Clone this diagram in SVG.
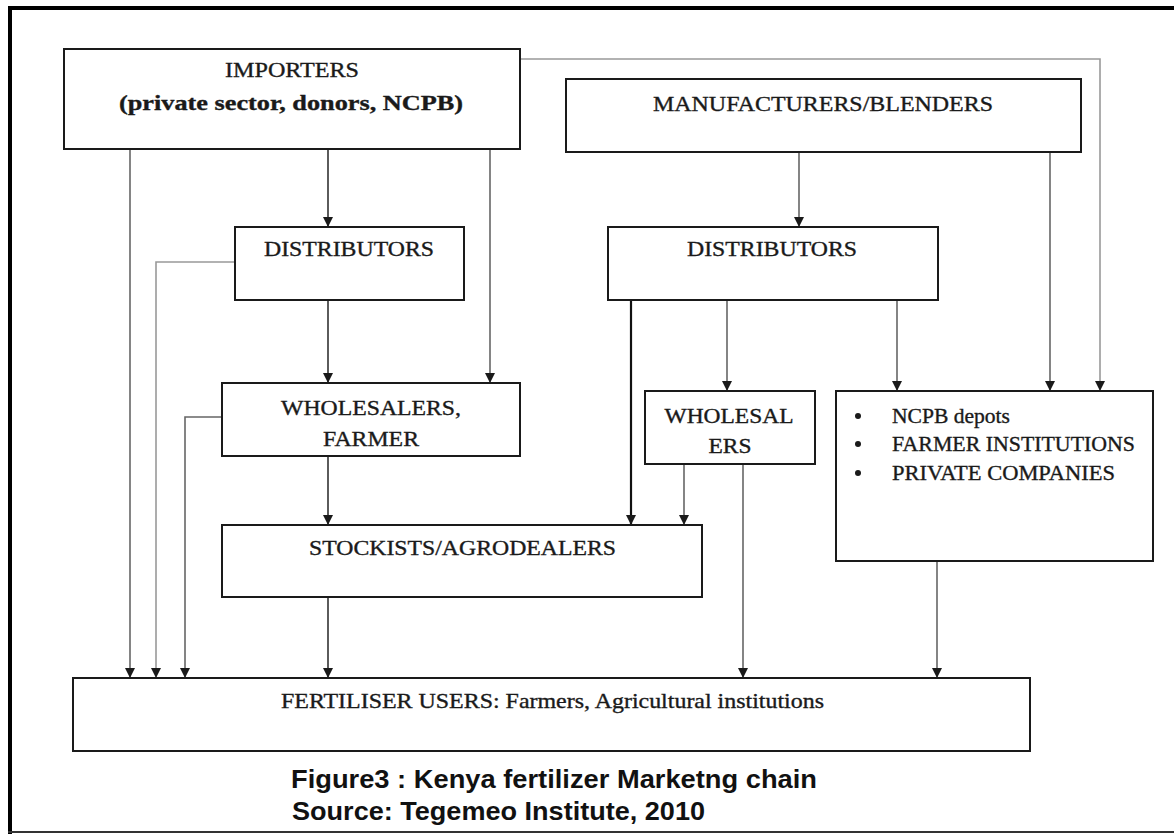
<svg xmlns="http://www.w3.org/2000/svg" width="1174" height="834" viewBox="0 0 1174 834">
<style>
.box{fill:#fff;stroke:#1a1a1a;stroke-width:2}
.lbl{font-family:"Liberation Serif","Times New Roman",serif;font-size:21px;fill:#1a1a1a;stroke:#1a1a1a;stroke-width:0.35}
.cap{font-family:"Liberation Sans",Arial,sans-serif;font-size:25px;font-weight:bold;fill:#111}
.c{fill:none;stroke-width:1.6}
.dk{stroke:#333}
.md{stroke:#666}
.lt{stroke:#999}
.bk{stroke:#111;stroke-width:2.2}
</style>
<defs>
<marker id="a" viewBox="0 0 10 10" refX="10" refY="5" markerWidth="10" markerHeight="11" markerUnits="userSpaceOnUse" orient="auto">
<path d="M0,0 L10,5 L0,10 Z" fill="#1a1a1a"/>
</marker>
</defs>
<rect width="1174" height="834" fill="#fff"/>
<g id="frame" fill="none">
<line x1="8" y1="8" x2="1174" y2="8" stroke="#000" stroke-width="4"/>
<line x1="10" y1="6" x2="10" y2="834" stroke="#000" stroke-width="4"/>
<line x1="8" y1="832" x2="1174" y2="832" stroke="#333" stroke-width="2"/>
</g>
<g id="connectors">
<path class="c md" d="M130,149 V678" marker-end="url(#a)"/>
<path class="c dk" d="M328,149 V227" marker-end="url(#a)"/>
<path class="c md" d="M490,149 V383" marker-end="url(#a)"/>
<path class="c lt" d="M520,59 H1100 V391" marker-end="url(#a)"/>
<path class="c md" d="M799,152 V227" marker-end="url(#a)"/>
<path class="c md" d="M1050,152 V391" marker-end="url(#a)"/>
<path class="c lt" d="M235,262 H156 V678" marker-end="url(#a)"/>
<path class="c dk" d="M328,300 V383" marker-end="url(#a)"/>
<path class="c md" d="M222,417 H185 V678" marker-end="url(#a)"/>
<path class="c dk" d="M328,456 V525" marker-end="url(#a)"/>
<path class="c bk" d="M631,300 V525" marker-end="url(#a)"/>
<path class="c md" d="M727,300 V391" marker-end="url(#a)"/>
<path class="c md" d="M897,300 V391" marker-end="url(#a)"/>
<path class="c md" d="M684,464 V525" marker-end="url(#a)"/>
<path class="c md" d="M743,464 V678" marker-end="url(#a)"/>
<path class="c dk" d="M328,597 V678" marker-end="url(#a)"/>
<path class="c md" d="M937,561 V678" marker-end="url(#a)"/>
</g>
<g id="importers">
<rect class="box" x="64" y="49" width="456" height="100"/>
<text class="lbl" x="292" y="77" text-anchor="middle" textLength="134" lengthAdjust="spacingAndGlyphs">IMPORTERS</text>
<text class="lbl" x="291" y="110" text-anchor="middle" font-weight="bold" textLength="344" lengthAdjust="spacingAndGlyphs">(private sector, donors, NCPB)</text>
</g>
<g id="manufacturers">
<rect class="box" x="566" y="79" width="515" height="73"/>
<text class="lbl" x="823" y="111" text-anchor="middle" textLength="340" lengthAdjust="spacingAndGlyphs">MANUFACTURERS/BLENDERS</text>
</g>
<g id="distributors1">
<rect class="box" x="235" y="227" width="229" height="73"/>
<text class="lbl" x="349" y="256" text-anchor="middle" textLength="170" lengthAdjust="spacingAndGlyphs">DISTRIBUTORS</text>
</g>
<g id="distributors2">
<rect class="box" x="608" y="227" width="330" height="73"/>
<text class="lbl" x="772" y="256" text-anchor="middle" textLength="170" lengthAdjust="spacingAndGlyphs">DISTRIBUTORS</text>
</g>
<g id="wholesalers-farmer">
<rect class="box" x="222" y="383" width="298" height="73"/>
<text class="lbl" x="371" y="415" text-anchor="middle" textLength="180" lengthAdjust="spacingAndGlyphs">WHOLESALERS,</text>
<text class="lbl" x="371" y="446" text-anchor="middle" textLength="96" lengthAdjust="spacingAndGlyphs">FARMER</text>
</g>
<g id="wholesalers2">
<rect class="box" x="645" y="391" width="170" height="73"/>
<text class="lbl" x="729" y="423" text-anchor="middle" textLength="129" lengthAdjust="spacingAndGlyphs">WHOLESAL</text>
<text class="lbl" x="730" y="453" text-anchor="middle" textLength="43" lengthAdjust="spacingAndGlyphs">ERS</text>
</g>
<g id="ncpb">
<rect class="box" x="836" y="391" width="317" height="170"/>
<circle cx="858" cy="416" r="3" fill="#1a1a1a"/>
<circle cx="858" cy="444" r="3" fill="#1a1a1a"/>
<circle cx="858" cy="473" r="3" fill="#1a1a1a"/>
<text class="lbl" x="892" y="423" textLength="118" lengthAdjust="spacingAndGlyphs">NCPB depots</text>
<text class="lbl" x="892" y="451" textLength="243" lengthAdjust="spacingAndGlyphs">FARMER INSTITUTIONS</text>
<text class="lbl" x="892" y="480" textLength="223" lengthAdjust="spacingAndGlyphs">PRIVATE COMPANIES</text>
</g>
<g id="stockists">
<rect class="box" x="222" y="525" width="480" height="72"/>
<text class="lbl" x="309" y="555" textLength="307" lengthAdjust="spacingAndGlyphs">STOCKISTS/AGRODEALERS</text>
</g>
<g id="users">
<rect class="box" x="73" y="678" width="957" height="73"/>
<text class="lbl" x="281" y="708" font-size="18" textLength="543" lengthAdjust="spacingAndGlyphs">FERTILISER USERS: Farmers, Agricultural institutions</text>
</g>
<g id="caption">
<text class="cap" x="291" y="788" textLength="526" lengthAdjust="spacingAndGlyphs">Figure3 : Kenya fertilizer Marketng chain</text>
<text class="cap" x="292" y="820" textLength="413" lengthAdjust="spacingAndGlyphs">Source: Tegemeo Institute, 2010</text>
</g>
</svg>
